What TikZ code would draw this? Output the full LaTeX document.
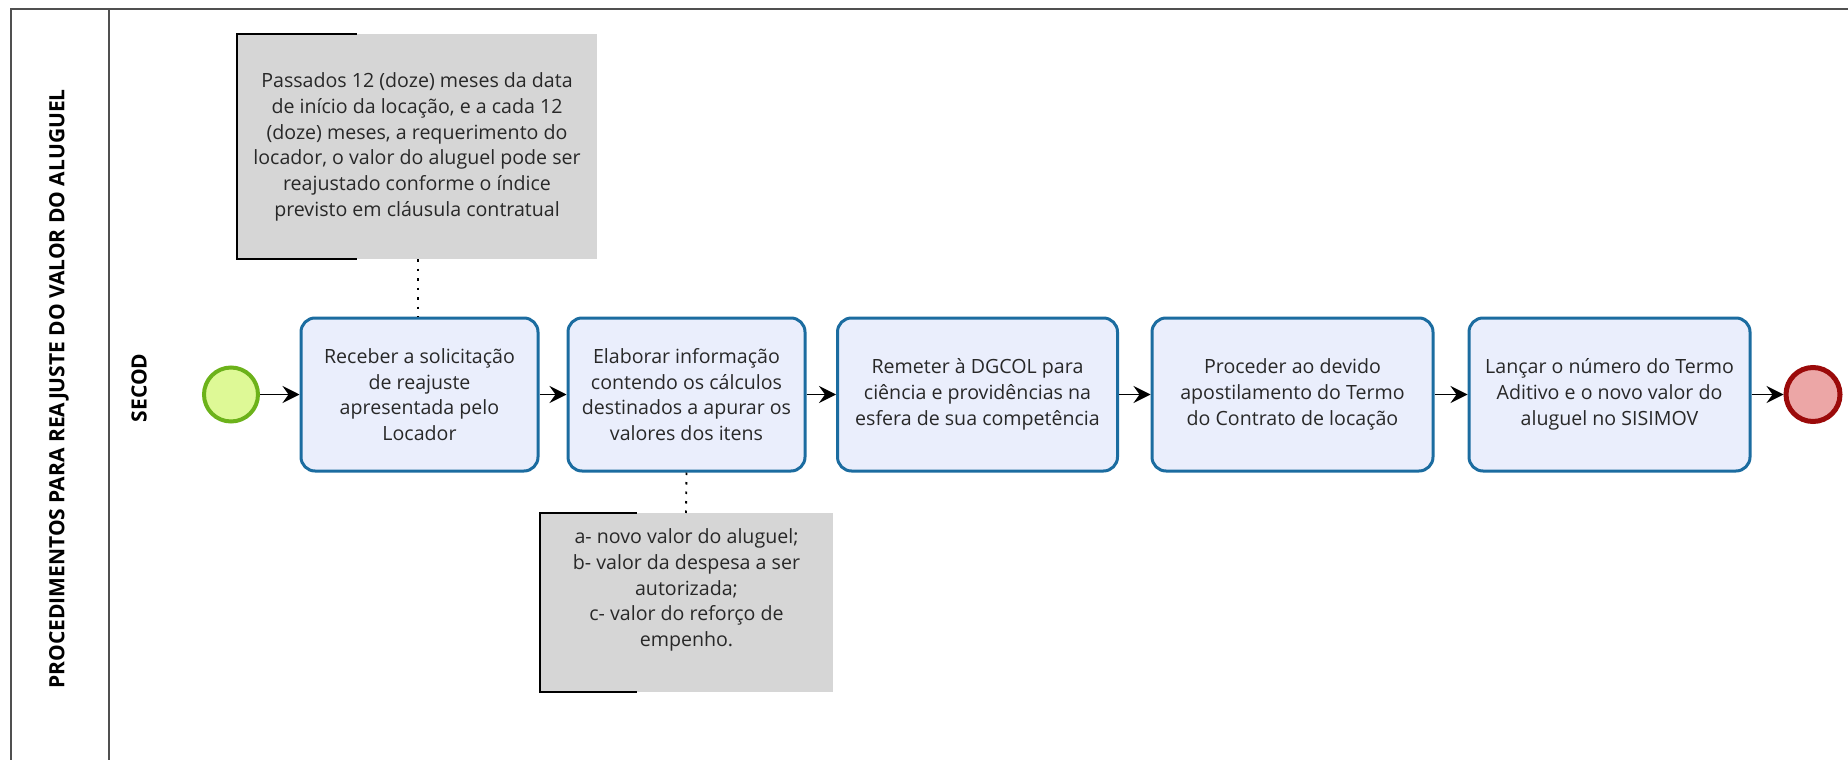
\documentclass[tikz,border=0pt]{standalone}
\usepackage{fontspec}
\setmainfont{Open Sans}
\usetikzlibrary{arrows.meta}
\definecolor{taskfill}{RGB}{234,238,252}
\definecolor{taskdraw}{RGB}{27,108,160}
\definecolor{startfill}{RGB}{222,249,150}
\definecolor{startdraw}{RGB}{108,178,26}
\definecolor{endfill}{RGB}{236,166,166}
\definecolor{enddraw}{RGB}{155,10,10}
\definecolor{notefill}{RGB}{214,214,214}
\definecolor{framecol}{RGB}{80,80,80}
\definecolor{txt}{RGB}{40,40,40}
\tikzset{
  task/.style={draw=taskdraw, fill=taskfill, line width=3pt, rounded corners=14pt,
    minimum height=153pt, inner sep=0pt, align=center, text=txt,
    font=\fontsize{19.6}{25.7}\selectfont},
  startev/.style={circle, draw=startdraw, fill=startfill, line width=4pt, minimum size=54pt, inner sep=0pt},
  endev/.style={circle, draw=enddraw, fill=endfill, line width=5pt, minimum size=54pt, inner sep=0pt},
  notebox/.style={fill=notefill, inner sep=0pt},
  notetext/.style={align=center, text=txt, font=\fontsize{19.6}{25.7}\selectfont},
  flow/.style={line width=1.8pt, -{Stealth[length=17pt,width=17pt,inset=6pt]}},
  assoc/.style={line width=1.8pt, dash pattern=on 2.5pt off 7pt},
  bracket/.style={line width=2pt, black},
  frame/.style={line width=1.5pt, framecol},
  lanelabel/.style={font=\bfseries\fontsize{21}{24}\selectfont, text=black, rotate=90}
}
\begin{document}
\begin{tikzpicture}[x=1pt,y=-1pt]
\useasboundingbox (0,0) rectangle (1848,760);
% frame
\draw[frame] (11,760) -- (11,9) -- (1848,9);
\draw[frame] (109,9) -- (109,760);
\node[lanelabel] (pool) at (59,389) {PROCEDIMENTOS PARA REAJUSTE DO VALOR DO ALUGUEL};
\node[lanelabel] (lane) at (139,388) {SECOD};
% events
\node[startev] (start) at (231,394.5) {};
\node[endev] (end) at (1813,394.5) {};
% tasks
\node[task, minimum width=237pt] (t1) at (419.5,394.5) {Receber a solicitação\\de reajuste\\apresentada pelo\\Locador};
\node[task, minimum width=237pt] (t2) at (686.5,394.5) {Elaborar informação\\contendo os cálculos\\destinados a apurar os\\valores dos itens};
\node[task, minimum width=280pt] (t3) at (977.5,394.5) {Remeter à DGCOL para\\ciência e providências na\\esfera de sua competência};
\node[task, minimum width=281pt] (t4) at (1292.5,394.5) {Proceder ao devido\\apostilamento do Termo\\do Contrato de locação};
\node[task, minimum width=281pt] (t5) at (1609.5,394.5) {Lançar o número do Termo\\Aditivo e o novo valor do\\aluguel no SISIMOV};
% flows
\draw[flow] (start) -- (t1);
\draw[flow] (t1) -- (t2);
\draw[flow] (t2) -- (t3);
\draw[flow] (t3) -- (t4);
\draw[flow] (t4) -- (t5);
\draw[flow] (t5) -- (end);
% note 1
\node[notebox, minimum width=360pt, minimum height=225pt] (n1) at (417,146.5) {};
\node[notetext] (n1t) at (417,147) {Passados 12 (doze) meses da data\\de início da locação, e a cada 12\\(doze) meses, a requerimento do\\locador, o valor do aluguel pode ser\\reajustado conforme o índice\\previsto em cláusula contratual};
\draw[bracket] ([xshift=120pt]n1.north west) -- (n1.north west) -- (n1.south west) -- ([xshift=120pt]n1.south west);
\coordinate (a1) at (418,259);
\draw[assoc] (a1) -- (a1 |- t1.north);
% note 2
\node[notebox, minimum width=293pt, minimum height=179pt] (n2) at (686.5,602.5) {};
\node[notetext] (n2t) at (686.5,590) {a- novo valor do aluguel;\\b- valor da despesa a ser\\autorizada;\\c- valor do reforço de\\empenho.};
\draw[bracket] ([xshift=97pt]n2.north west) -- (n2.north west) -- (n2.south west) -- ([xshift=97pt]n2.south west);
\coordinate (a2) at (686,513);
\draw[assoc] (t2.south) -- (a2);
\end{tikzpicture}
\end{document}
